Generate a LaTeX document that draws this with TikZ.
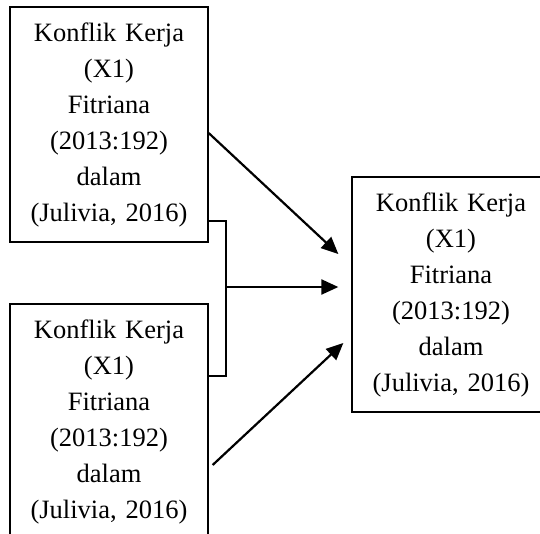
\documentclass[tikz,border=0pt]{standalone}
\usepackage{fontspec}
\setmainfont{Liberation Serif}
\usepackage{tikz}
\usetikzlibrary{positioning,arrows.meta}

\begin{document}
\begin{tikzpicture}[x=1pt,y=-1pt,
    every node/.style={draw,line width=1.3pt,minimum width=198pt,minimum height=235pt,
      inner sep=4pt,text width=188pt,align=center,font=\fontsize{26.5}{36}\selectfont},
    arr/.style={line width=2.2pt,-{Triangle[length=17pt,width=15pt]}}]
    \useasboundingbox (0,0) rectangle (540,533);
    \node (X1) at (109,124.5) {Konflik Kerja\\(X1)\\Fitriana\\(2013:192)\\dalam\\(Julivia, 2016)};
    \node (X2) at (109,421.5) {Konflik Kerja\\(X1)\\Fitriana\\(2013:192)\\dalam\\(Julivia, 2016)};
    \node (Y) at (451,294.5) {Konflik Kerja\\(X1)\\Fitriana\\(2013:192)\\dalam\\(Julivia, 2016)};
    % bracket joining the two left boxes
    \coordinate (m) at (226,287);
    \draw[line width=1.3pt] ([yshift=-96.5pt]X1.east) -| (m) |- ([yshift=45.5pt]X2.east);
    \draw[arr] ([yshift=-8.5pt]X1.east) -- ([xshift=-13pt,yshift=40.5pt]Y.west);
    \draw[arr] (m) -- ([xshift=-13pt,yshift=7.5pt]Y.west);
    \draw[arr] ([xshift=4pt,yshift=-43.5pt]X2.east) -- ([xshift=-8pt,yshift=-48.5pt]Y.west);
  \end{tikzpicture}
\end{document}
